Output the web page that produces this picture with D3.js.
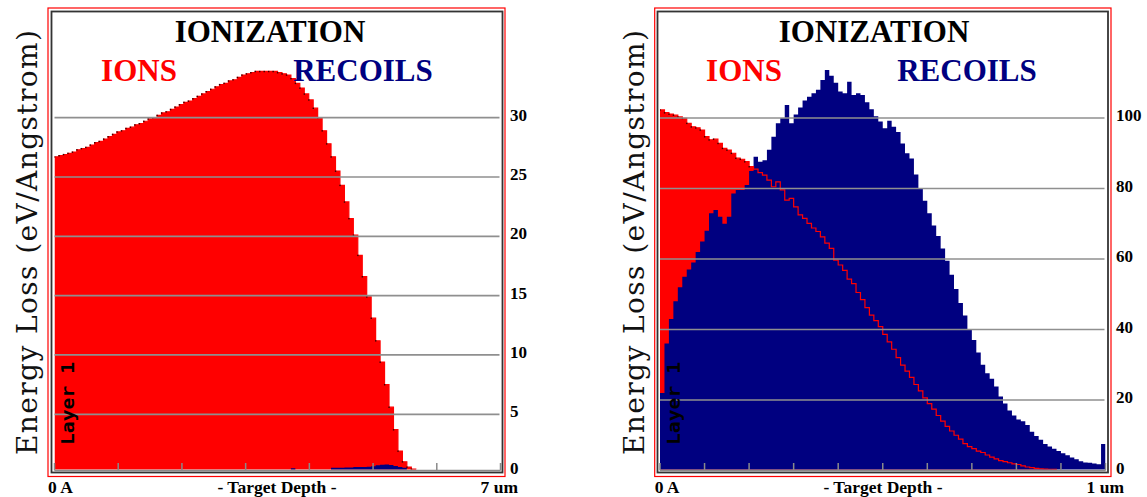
<!DOCTYPE html>
<html><head><meta charset="utf-8">
<script src="https://cdn.jsdelivr.net/npm/d3@7"></script>
<style>html,body{margin:0;padding:0;background:#fff;}svg{display:block}</style>
</head><body>
<svg id="chart" width="1147" height="497"></svg>
<script>
// ---------------- DATA ----------------
const chartTitle = "IONIZATION";
const seriesNames = ["IONS", "RECOILS"];
const yAxisTitle = "Energy Loss (eV/Angstrom)";
const xAxisTitle = "- Target Depth -";
const layerLabel = "Layer 1";

// left panel: 0 .. 7 um, 100 depth bins
const leftDepthLabels = ["0 A", "7 um"];
const leftDepthMax = 7;
const leftDepthTicks = [0, 1, 2, 3, 4, 5, 6, 7];
const leftYTicks = [0, 5, 10, 15, 20, 25, 30];
const leftIons = [
  26.7, 26.8, 26.9, 27.0, 27.1, 27.3, 27.4, 27.5, 27.7, 27.9,
  28.0, 28.2, 28.4, 28.6, 28.8, 28.9, 29.1, 29.2, 29.4, 29.5,
  29.7, 29.9, 30.0, 30.2, 30.4, 30.5, 30.7, 30.9, 31.1, 31.3,
  31.4, 31.6, 31.8, 32.0, 32.2, 32.4, 32.6, 32.8, 32.9, 33.1,
  33.2, 33.4, 33.6, 33.7, 33.8, 33.9, 33.9, 33.9, 33.9, 33.9,
  33.8, 33.7, 33.6, 33.3, 32.9, 32.5, 32.0, 31.5, 30.8, 30.0,
  28.9, 27.8, 26.7, 25.5, 24.3, 22.9, 21.5, 20.1, 18.4, 16.6,
  14.9, 13.1, 11.2, 9.4, 7.5, 5.6, 3.7, 1.9, 1.0, 0.55,
  0.38, 0, 0, 0, 0, 0, 0, 0, 0, 0,
  0, 0, 0, 0, 0, 0, 0, 0, 0, 0
];
const leftRecoils = [
  0, 0, 0, 0, 0, 0, 0, 0, 0, 0,
  0, 0, 0, 0, 0, 0, 0, 0, 0, 0,
  0, 0, 0, 0, 0, 0, 0, 0, 0, 0,
  0, 0, 0, 0, 0, 0, 0, 0, 0, 0,
  0, 0, 0, 0, 0, 0, 0, 0, 0, 0,
  0, 0, 0, 0.45, 0, 0, 0, 0, 0, 0,
  0, 0, 0.5, 0.5, 0.5, 0.52, 0.52, 0.55, 0.55, 0.55,
  0.58, 0.62, 0.7, 0.75, 0.76, 0.72, 0.65, 0.55, 0.5, 0,
  0, 0, 0, 0, 0, 0, 0, 0, 0, 0,
  0, 0, 0, 0, 0, 0, 0, 0, 0, 0
];

// right panel: 0 .. 1 um, 100 depth bins
const rightDepthLabels = ["0 A", "1 um"];
const rightDepthMax = 1;
const rightDepthTicks = [0, 0.1, 0.2, 0.3, 0.4, 0.5, 0.6, 0.7, 0.8, 0.9, 1];
const rightYTicks = [0, 20, 40, 60, 80, 100];
const rightIons = [
  102.3, 101.5, 101.1, 100.8, 100.3, 99.9, 98.5, 97.5, 97.2, 96.6,
  94.7, 93.8, 94.0, 92.8, 91.4, 90.9, 90.0, 88.6, 88.3, 87.6,
  86.2, 85.5, 84.5, 83.8, 82.4, 80.5, 81.9, 79.6, 76.7, 77.2,
  74.8, 72.5, 71.5, 70.1, 68.8, 67.8, 66.3, 64.5, 63.0, 59.7,
  58.3, 56.8, 54.3, 53.0, 50.5, 48.5, 46.2, 44.1, 42.5, 40.8,
  38.6, 36.5, 34.4, 32.0, 29.9, 28.2, 26.4, 24.4, 22.6, 20.6,
  19.0, 17.4, 15.6, 14.0, 12.5, 11.2, 10.0, 8.9, 7.6, 6.8,
  6.2, 5.5, 5.1, 4.4, 3.8, 3.3, 2.8, 2.5, 2.2, 1.9,
  1.7, 1.3, 1.0, 0.8, 0.6, 0.5, 0.4, 0.35, 0.3, 0,
  0, 0, 0, 0, 0, 0, 0, 0, 0, 0
];
const rightRecoils = [
  22, 36, 43, 48, 52, 55, 57, 59, 62, 65,
  68, 73, 73.9, 72, 70, 72, 78.6, 79.6, 79.6, 81,
  85, 89, 87.6, 88, 91, 94.7, 98.5, 100, 103.7, 98.5,
  101, 103, 105, 106, 107, 108, 110.8, 113.6, 112, 110,
  107.5, 107, 110.3, 106.5, 107, 106.5, 104.5, 102.5, 100.5, 99,
  97.1, 99.2, 97.5, 96, 92.8, 90, 88.5, 84, 80, 76.5,
  73, 69.5, 66.5, 63, 59.5, 55.5, 51.5, 47.5, 44, 40,
  37, 33.5, 30, 27.6, 26, 23.8, 21, 19, 17, 15.6,
  14.5, 14, 12.9, 11, 9.8, 8.7, 7.5, 6.8, 6.2, 5.5,
  4.9, 4.3, 3.7, 3.2, 2.6, 2.3, 2.2, 2.0, 1.8, 7.5
];

// ---------------- DRAWING ----------------
const svg = d3.select("#chart");
const SERIF = "'Liberation Serif','Times New Roman',serif";
const SLAB = "'DejaVu Serif',serif";

function drawPanel(L, ions, recoils, yTicks, depthMax, depthTicks, depthLabels, id) {
  const g = svg.append("g");
  const n = ions.length;
  const x = d3.scaleLinear().domain([0, depthMax]).range([L.px0, L.px1]);
  const y = d3.scaleLinear().domain([0, yTicks[yTicks.length - 1]]).range([L.yZero, L.yTopTick]);

  g.append("clipPath").attr("id", "clip" + id).append("rect")
    .attr("x", L.px0).attr("y", L.top).attr("width", L.px1 - L.px0).attr("height", L.pBottom - L.top);

  const toBins = arr => arr.map((v, i) => ({d: depthMax * i / n, v}))
    .concat([{d: depthMax, v: arr[n - 1]}]);

  const area = d3.area().x(p => x(p.d)).y0(y(0)).y1(p => y(p.v)).curve(d3.curveStepAfter);
  const line = d3.line().x(p => x(p.d)).y(p => y(p.v)).curve(d3.curveStepAfter);

  const plot = g.append("g").attr("clip-path", "url(#clip" + id + ")");
  plot.append("path").datum(toBins(ions)).attr("d", area).attr("fill", "#ff0000");
  plot.append("path").datum(toBins(recoils)).attr("d", area).attr("fill", "#000080");
  plot.append("path").datum(toBins(ions)).attr("d", line)
    .attr("fill", "none").attr("stroke", "#ff0000").attr("stroke-width", 1.2);
  // small dark markers at the ion histogram steps (visible where ions are on top)
  plot.selectAll("rect.dot").data(ions.map((v, i) => ({d: depthMax * i / n, v, r: recoils[i]}))
      .filter(p => p.v > 0 && p.v > p.r))
    .enter().append("rect").attr("class", "dot")
    .attr("x", p => x(p.d) - 0.6).attr("y", p => y(p.v) - 0.6)
    .attr("width", 1.4).attr("height", 1.4).attr("fill", "#3a0000");

  // grid lines
  g.selectAll("line.grid").data(yTicks.filter(t => t > 0)).enter().append("line")
    .attr("x1", L.px0).attr("x2", L.px1 - 1)
    .attr("y1", t => y(t)).attr("y2", t => y(t))
    .attr("stroke", "#8f8f8f").attr("stroke-width", 1.7);

  // bottom depth axis strip
  g.append("line").attr("x1", L.px0).attr("x2", L.px1).attr("y1", L.pBottom + 1).attr("y2", L.pBottom + 1)
    .attr("stroke", "#8a8a8a").attr("stroke-width", 1.5);
  g.selectAll("line.tick").data(depthTicks).enter().append("line")
    .attr("x1", t => x(t)).attr("x2", t => x(t))
    .attr("y1", L.pBottom - 6.5).attr("y2", L.pBottom + 1)
    .attr("stroke", "#8a8a8a").attr("stroke-width", 1.5);

  // frames
  g.append("rect").attr("x", L.fx0).attr("y", L.fy0).attr("width", L.fx1 - L.fx0).attr("height", L.fy1 - L.fy0)
    .attr("fill", "none").attr("stroke", "#333").attr("stroke-width", 1.8);
  g.append("rect").attr("x", L.bx0).attr("y", L.by0).attr("width", L.bx1 - L.bx0).attr("height", L.by1 - L.by0)
    .attr("fill", "none").attr("stroke", "#ff0000").attr("stroke-width", 1.2);

  // y tick labels (right side)
  g.selectAll("text.yt").data(yTicks).enter().append("text")
    .attr("x", L.bx1 + 5).attr("y", t => Math.min(y(t) + 3, L.pBottom + 4))
    .attr("font-family", SERIF).attr("font-weight", "bold").attr("font-size", 17)
    .attr("fill", "#000").text(t => t);

  // titles
  g.append("text").attr("x", L.titleX).attr("y", 42).attr("text-anchor", "middle")
    .attr("font-family", SERIF).attr("font-weight", "bold").attr("font-size", 31)
    .attr("fill", "#000").text(chartTitle);
  g.append("text").attr("x", L.ionsX).attr("y", 81).attr("text-anchor", "middle")
    .attr("font-family", SERIF).attr("font-weight", "bold").attr("font-size", 31)
    .attr("fill", "#ff0000").text(seriesNames[0]);
  g.append("text").attr("x", L.recX).attr("y", 81).attr("text-anchor", "middle")
    .attr("font-family", SERIF).attr("font-weight", "bold").attr("font-size", 31)
    .attr("fill", "#000080").text(seriesNames[1]);

  // y axis title
  g.append("text").attr("transform", `translate(${L.bx0 - 11},455) rotate(-90)`)
    .attr("font-family", SLAB).attr("font-size", 28).attr("fill", "#111")
    .attr("textLength", 425).attr("lengthAdjust", "spacing").text(yAxisTitle);

  // layer label
  g.append("text").attr("transform", `translate(${L.px0 + 19.5},445) rotate(-90)`)
    .attr("font-family", "'DejaVu Sans Mono',monospace").attr("font-weight", "bold").attr("font-size", 17)
    .attr("fill", "#000").attr("textLength", 83).attr("lengthAdjust", "spacingAndGlyphs").text(layerLabel);

  // x axis labels
  const xl = [
    {t: depthLabels[0], x: L.bx0, a: "start"},
    {t: xAxisTitle, x: L.midX, a: "middle"},
    {t: depthLabels[1], x: L.bx1 + 13, a: "end"}
  ];
  g.selectAll("text.xl").data(xl).enter().append("text")
    .attr("x", p => p.x).attr("y", 493).attr("text-anchor", p => p.a)
    .attr("font-family", SERIF).attr("font-weight", "bold").attr("font-size", 17.5)
    .attr("fill", "#000").text(p => p.t);
}

const leftLayout = {
  bx0: 48, bx1: 505, by0: 8, by1: 476.5,
  fx0: 51.5, fx1: 502.5, fy0: 11.5, fy1: 472.5,
  px0: 54.5, px1: 500.5, top: 13, pBottom: 469.5,
  yZero: 473.6, yTopTick: 117.7,
  titleX: 270, ionsX: 139, recX: 363, midX: 277
};
const rightLayout = {
  bx0: 654.7, bx1: 1111, by0: 8, by1: 476.5,
  fx0: 657.5, fx1: 1108, fy0: 11.5, fy1: 472.5,
  px0: 660, px1: 1105.5, top: 13, pBottom: 469.5,
  yZero: 470.5, yTopTick: 118,
  titleX: 874, ionsX: 744, recX: 967, midX: 883
};

drawPanel(leftLayout, leftIons, leftRecoils, leftYTicks, leftDepthMax, leftDepthTicks, leftDepthLabels, "L");
drawPanel(rightLayout, rightIons, rightRecoils, rightYTicks, rightDepthMax, rightDepthTicks, rightDepthLabels, "R");
</script>
</body></html>
